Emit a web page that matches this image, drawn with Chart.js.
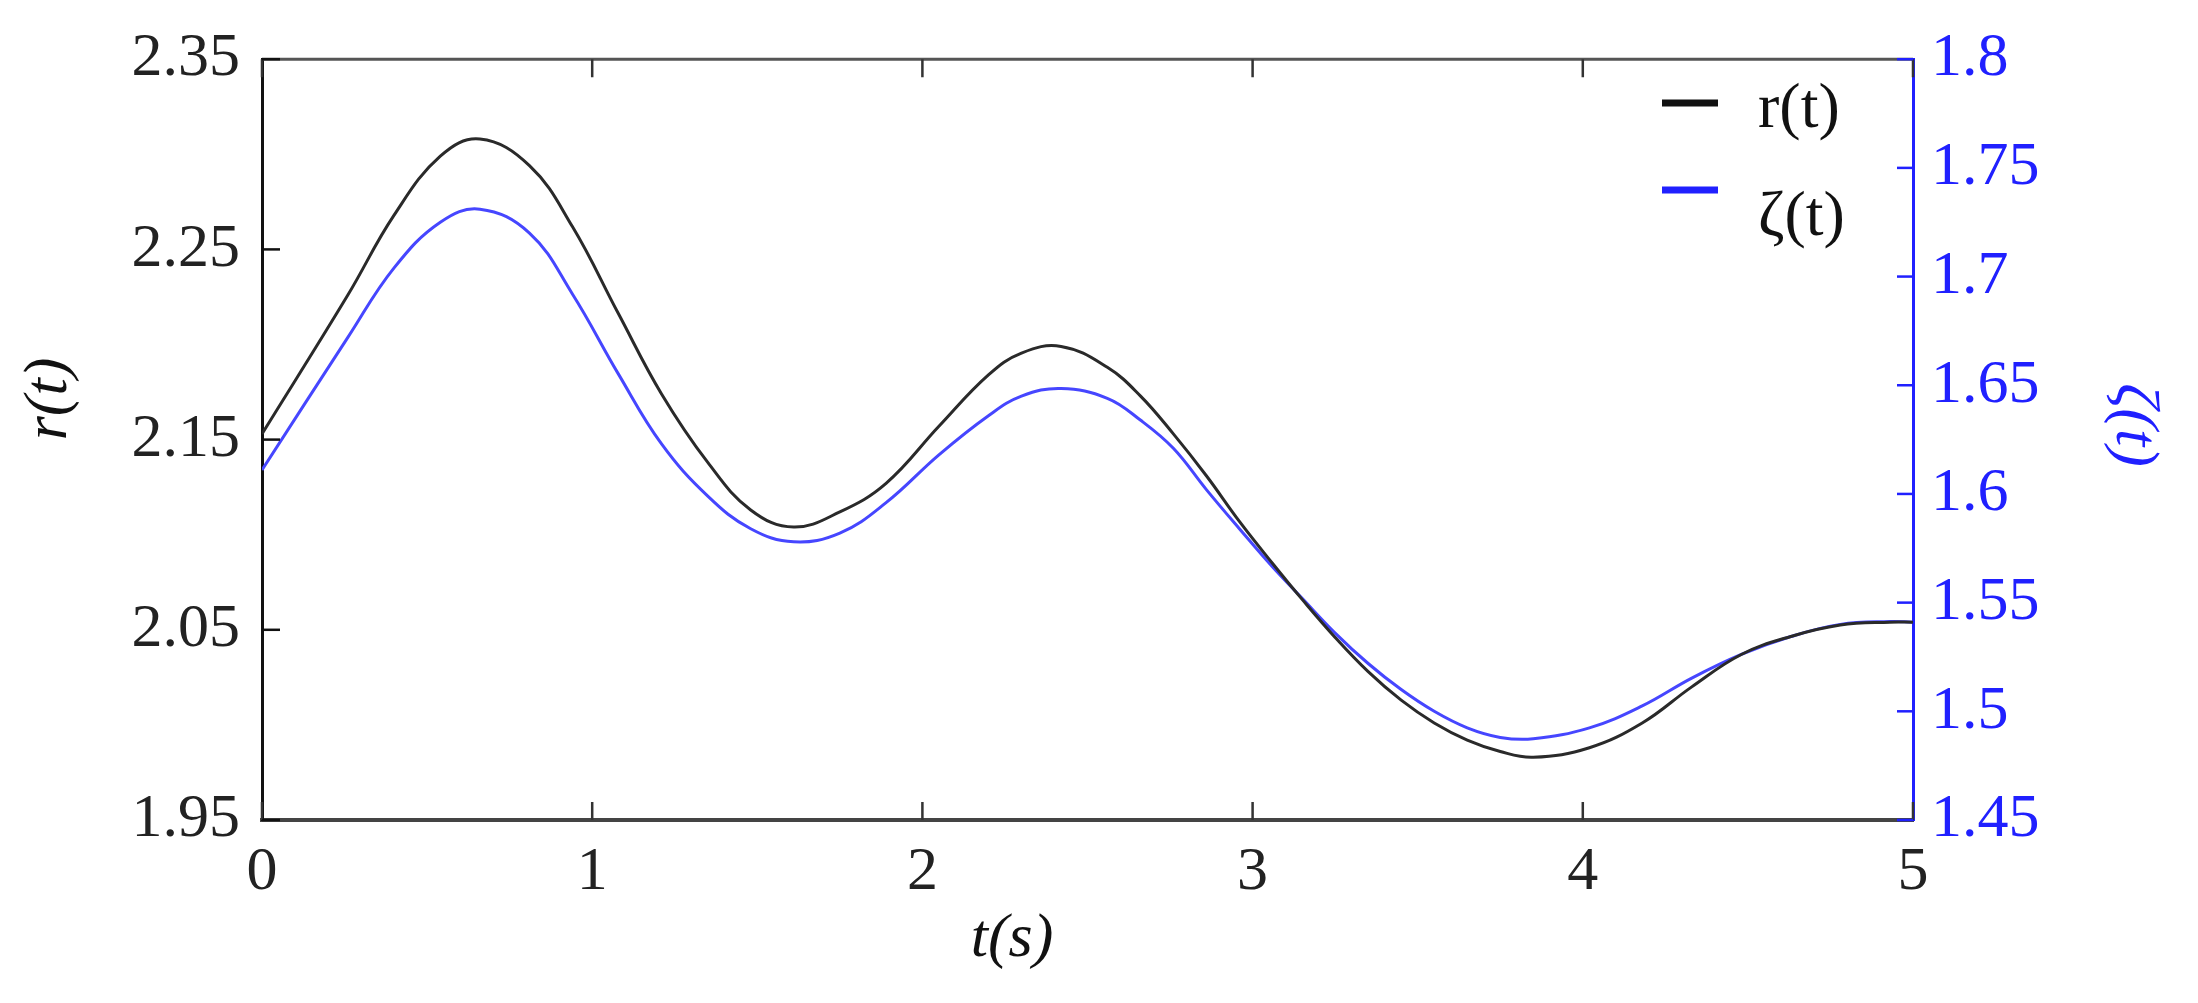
<!DOCTYPE html>
<html>
<head>
<meta charset="utf-8">
<script src="https://cdn.jsdelivr.net/npm/chart.js@4"></script>
<style>
  html, body { margin: 0; padding: 0; background: #fff; }
  canvas { display: block; }
</style>
</head>
<body>
<canvas id="chart" width="2198" height="1003"></canvas>
<script>
// values
const tValues = [0, 0.26, 0.40, 0.54, 0.66, 0.81, 0.94, 1.08, 1.21, 1.35, 1.48, 1.61, 1.75, 1.89, 2.05, 2.20, 2.30, 2.42, 2.56, 2.66, 2.76, 2.86, 2.96, 3.06, 3.15, 3.25, 3.35, 3.45, 3.55, 3.65, 3.75, 3.85, 4.02, 4.18, 4.33, 4.48, 4.63, 4.78, 4.93, 5.0];
const rValues = [2.153, 2.226, 2.268, 2.299, 2.308, 2.294, 2.262, 2.216, 2.174, 2.138, 2.113, 2.104, 2.112, 2.127, 2.157, 2.184, 2.1955, 2.199, 2.188, 2.173, 2.153, 2.131, 2.107, 2.085, 2.066, 2.046, 2.028, 2.013, 2.001, 1.992, 1.986, 1.983, 1.988, 2.001, 2.020, 2.037, 2.0465, 2.0525, 2.054, 2.054];
const zetaValues = [1.611, 1.672, 1.704, 1.725, 1.731, 1.720, 1.692, 1.655, 1.623, 1.599, 1.584, 1.578, 1.582, 1.596, 1.618, 1.636, 1.645, 1.6485, 1.644, 1.634, 1.621, 1.602, 1.584, 1.5665, 1.552, 1.536, 1.522, 1.510, 1.500, 1.4924, 1.488, 1.4874, 1.4924, 1.5025, 1.5153, 1.5262, 1.5344, 1.540, 1.5413, 1.541];

const xTicks = [0, 1, 2, 3, 4, 5];
const rTicks = [1.95, 2.05, 2.15, 2.25, 2.35];
const zetaTicks = [1.45, 1.5, 1.55, 1.6, 1.65, 1.7, 1.75, 1.8];

const seriesNames = ['r(t)', 'ζ(t)'];
const BLUE = '#2020ff';
const FONT = "'Liberation Serif', 'Times New Roman', serif";

const toPoints = (ys) => tValues.map((t, i) => ({ x: t, y: ys[i] }));

// inward ticks, top frame line, axis titles and legend
const extras = {
    id: 'extras',
    afterDraw(chart) {
        const c = chart.ctx;
        const a = chart.chartArea;
        const sx = chart.scales.x, sy = chart.scales.y, sz = chart.scales.y1;
        c.save();
        // top frame
        c.strokeStyle = '#555';
        c.lineWidth = 3;
        c.beginPath();
        c.moveTo(a.left, a.top);
        c.lineTo(a.right, a.top);
        c.stroke();
        // x ticks (bottom and top)
        c.strokeStyle = '#333';
        c.lineWidth = 2.5;
        xTicks.forEach(v => {
            const px = sx.getPixelForValue(v);
            c.beginPath();
            c.moveTo(px, a.bottom); c.lineTo(px, a.bottom - 18);
            c.moveTo(px, a.top); c.lineTo(px, a.top + 18);
            c.stroke();
        });
        // left ticks
        c.strokeStyle = '#111';
        rTicks.forEach(v => {
            const py = sy.getPixelForValue(v);
            c.beginPath();
            c.moveTo(a.left, py); c.lineTo(a.left + 18, py);
            c.stroke();
        });
        // right ticks
        c.strokeStyle = BLUE;
        zetaTicks.forEach(v => {
            const py = sz.getPixelForValue(v);
            c.beginPath();
            c.moveTo(a.right, py); c.lineTo(a.right - 16, py);
            c.stroke();
        });

        // axis titles
        c.font = 'italic 62px ' + FONT;
        c.textAlign = 'center';
        c.textBaseline = 'middle';
        c.fillStyle = '#111';
        c.fillText('t(s)', 1012, 940);

        c.save();
        c.translate(50, 399);
        c.rotate(-Math.PI / 2);
        c.fillText('r(t)', 0, 0);
        c.restore();

        c.save();
        c.fillStyle = BLUE;
        c.translate(2133, 425);
        c.rotate(Math.PI / 2);
        c.fillText('ζ(t)', 0, 0);
        c.restore();

        // legend
        const rows = [
            { color: '#111', lineY: 103, textY: 110 },
            { color: BLUE, lineY: 190, textY: 218 }
        ];
        c.font = '64px ' + FONT;
        c.textAlign = 'left';
        rows.forEach((row, i) => {
            c.strokeStyle = row.color;
            c.lineWidth = 7;
            c.beginPath();
            c.moveTo(1662, row.lineY);
            c.lineTo(1718, row.lineY);
            c.stroke();
            c.fillStyle = '#111';
            c.fillText(seriesNames[i], 1758, row.textY);
        });
        c.restore();
    }
};

const ctx = document.querySelector('#chart').getContext('2d');
const chart = new Chart(ctx, {
    type: 'line',
    data: {
        datasets: [{
            label: seriesNames[0],
            data: toPoints(rValues),
            yAxisID: 'y',
            borderColor: '#2a2a2a',
            borderWidth: 3,
            pointRadius: 0,
            tension: 0.4,
        }, {
            label: seriesNames[1],
            data: toPoints(zetaValues),
            yAxisID: 'y1',
            borderColor: '#4646ff',
            borderWidth: 3,
            pointRadius: 0,
            tension: 0.4,
        }]
    },
    options: {
        responsive: false,
        animation: false,
        layout: {
            padding: { top: 53, left: 0, right: 0, bottom: 0 }
        },
        plugins: {
            legend: { display: false },
            tooltip: { enabled: false },
        },
        scales: {
            x: {
                type: 'linear',
                position: 'bottom',
                min: 0,
                max: 5,
                afterBuildTicks: (s) => { s.ticks = xTicks.map(v => ({ value: v })); },
                afterFit: (s) => { s.height = 183; },
                grid: { display: false, drawTicks: false },
                border: { display: true, color: '#444', width: 4 },
                ticks: {
                    padding: 16,
                    color: '#222',
                    font: { family: FONT, size: 62 },
                },
            },
            y: {
                type: 'linear',
                position: 'left',
                min: 1.95,
                max: 2.35,
                afterBuildTicks: (s) => { s.ticks = rTicks.map(v => ({ value: v })); },
                afterFit: (s) => { s.width = 262; },
                grid: { display: false, drawTicks: false },
                border: { display: true, color: '#111', width: 3 },
                ticks: {
                    padding: 22,
                    color: '#222',
                    font: { family: FONT, size: 62 },
                    callback: (v) => v.toFixed(2),
                },
            },
            y1: {
                type: 'linear',
                position: 'right',
                min: 1.45,
                max: 1.8,
                afterBuildTicks: (s) => { s.ticks = zetaTicks.map(v => ({ value: v })); },
                afterFit: (s) => { s.width = 285; },
                grid: { display: false, drawTicks: false },
                border: { display: true, color: BLUE, width: 3 },
                ticks: {
                    padding: 18,
                    color: BLUE,
                    font: { family: FONT, size: 62 },
                    callback: (v) => String(parseFloat(v.toFixed(2))),
                },
            }
        }
    },
    plugins: [extras]
});
</script>
</body>
</html>
